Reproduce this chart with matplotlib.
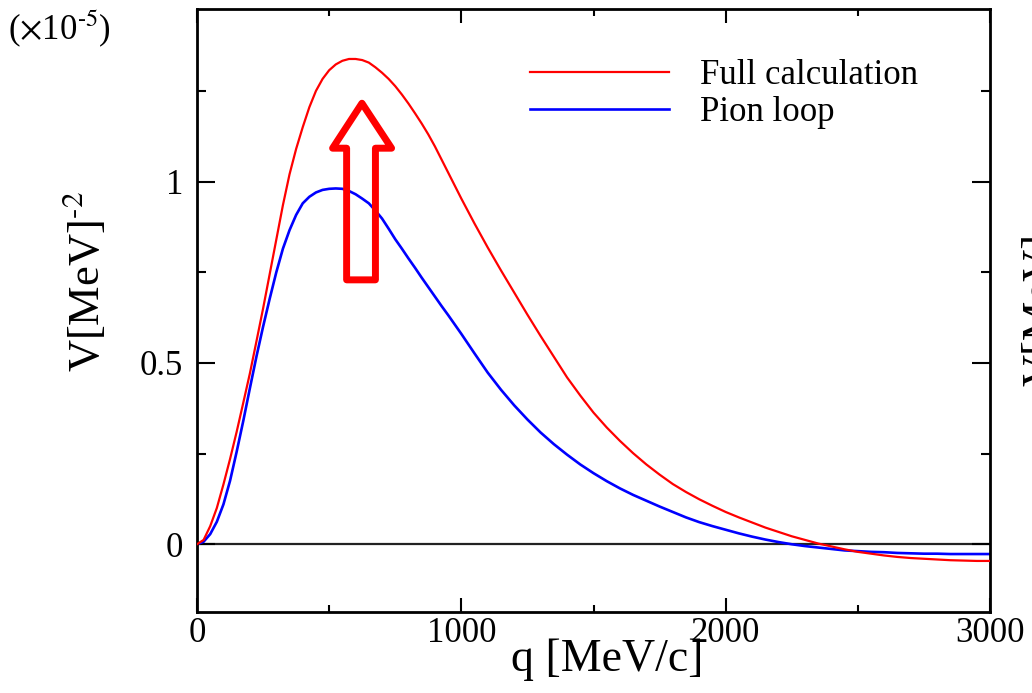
import numpy as np
import matplotlib
matplotlib.use('Agg')
import matplotlib.pyplot as plt
from matplotlib.ticker import MultipleLocator
from matplotlib.patches import Polygon

plt.rcParams['font.family'] = ['Liberation Serif', 'DejaVu Serif']
plt.rcParams['mathtext.fontset'] = 'stix'

# momentum transfer q [MeV/c]
q = list(range(0, 1001, 25)) + list(range(1050, 3001, 50))

# full calculation, V in units of 1e-5 MeV^-2
v_full = [0, 0.012, 0.05, 0.10, 0.165, 0.235, 0.31, 0.39, 0.471, 0.56, 0.65,
          0.745, 0.84, 0.935, 1.02, 1.09, 1.15, 1.205, 1.25, 1.283, 1.307,
          1.323, 1.333, 1.338, 1.338, 1.335, 1.328, 1.315, 1.30, 1.283, 1.263,
          1.240, 1.215, 1.188, 1.160, 1.130, 1.097, 1.061, 1.025, 0.989, 0.953,
          0.884, 0.818, 0.755, 0.694, 0.633, 0.574, 0.517, 0.46, 0.41, 0.363,
          0.322, 0.285, 0.251, 0.22, 0.192, 0.166, 0.144, 0.124, 0.106, 0.089,
          0.074, 0.06, 0.046, 0.034, 0.022, 0.012, 0.002, -0.006, -0.014,
          -0.021, -0.026, -0.031, -0.035, -0.038, -0.04, -0.042, -0.044,
          -0.045, -0.046, -0.046]

# pion loop contribution
v_pion = [0, 0.007, 0.028, 0.062, 0.11, 0.175, 0.255, 0.34, 0.43, 0.518, 0.60,
          0.677, 0.75, 0.815, 0.866, 0.908, 0.94, 0.958, 0.97, 0.977, 0.98,
          0.981, 0.98, 0.974, 0.965, 0.953, 0.94, 0.92, 0.898, 0.87, 0.841,
          0.815, 0.788, 0.762, 0.735, 0.709, 0.683, 0.657, 0.632, 0.606, 0.58,
          0.526, 0.473, 0.426, 0.383, 0.344, 0.308, 0.276, 0.247, 0.22, 0.196,
          0.174, 0.154, 0.136, 0.12, 0.104, 0.089, 0.074, 0.061, 0.05, 0.04,
          0.03, 0.021, 0.013, 0.006, 0.0, -0.005, -0.009, -0.013, -0.017,
          -0.019, -0.021, -0.022, -0.024, -0.025, -0.026, -0.026, -0.027,
          -0.027, -0.027, -0.027]

# hollow up-arrow (q, V) outline
arrow_q = [624, 736, 675, 675, 566, 566, 513]
arrow_v = [1.216, 1.092, 1.092, 0.729, 0.729, 1.092, 1.092]

fig = plt.figure(figsize=(10.32, 6.93), dpi=100)
ax = fig.add_axes([0.1909, 0.1173, 0.7684, 0.8693])

ax.axhline(0, color='#222222', lw=1.6, zorder=1)
ax.plot(q, v_full, color='#ff0000', lw=1.6, label='Full calculation', zorder=3)
ax.plot(q, v_pion, color='#0000ff', lw=1.9, label='Pion loop', zorder=2)

arrow = Polygon(np.column_stack([arrow_q, arrow_v]), closed=True, fill=False,
                edgecolor='#ff0000', lw=5, joinstyle='round', zorder=4)
ax.add_patch(arrow)

ax.set_xlim(0, 3000)
ax.set_ylim(-0.186, 1.475)
ax.xaxis.set_major_locator(MultipleLocator(1000))
ax.xaxis.set_minor_locator(MultipleLocator(500))
ax.yaxis.set_major_locator(MultipleLocator(0.5))
ax.yaxis.set_minor_locator(MultipleLocator(0.25))
ax.yaxis.set_major_formatter('{x:g}')

for s in ax.spines.values():
    s.set_linewidth(2)
ax.tick_params(which='both', direction='in', top=True, right=True, width=1.5,
               labelsize=25)
ax.tick_params(axis='x', which='major', length=10, pad=4)
ax.tick_params(axis='x', which='minor', length=5)
ax.tick_params(axis='y', which='major', length=13, pad=10)
ax.tick_params(axis='y', which='minor', length=6.5)

ax.set_xlabel('q [MeV/c]', fontsize=33)
ax.xaxis.set_label_coords(0.517, -0.045)
ax.set_ylabel(r'V[MeV]$^{\text{-}2}$', fontsize=32)
ax.yaxis.set_label_coords(-0.112, 0.548)

fig.text(0.008, 0.988, r'($\times$10$^{\text{-}5}$)', fontsize=25, ha='left', va='top')
# neighbouring panel label, cut at the right edge
fig.text(0.990, 1 - 310 / 693, 'V[MeV]', fontsize=32, rotation=90,
         ha='left', va='center')

ax.legend(loc='upper left', bbox_to_anchor=(0.42, 0.918), frameon=False,
          fontsize=25, handlelength=4.0, handletextpad=0.9, labelspacing=0.12,
          borderpad=0, borderaxespad=0)

fig.savefig('out.png', dpi=100)
